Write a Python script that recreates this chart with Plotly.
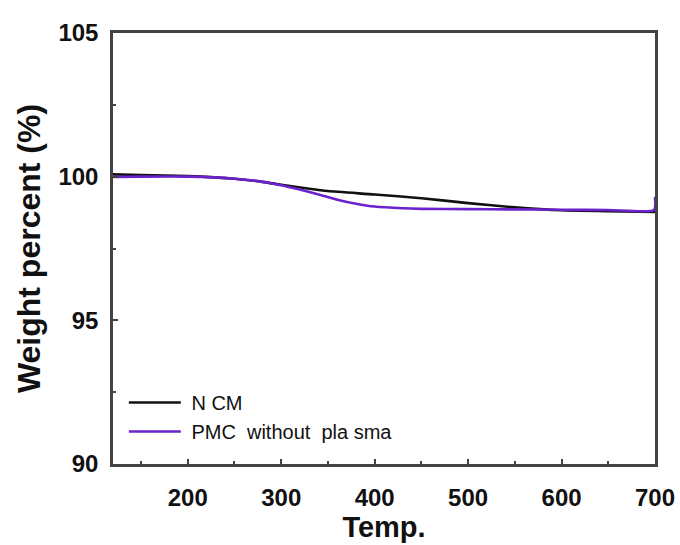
import plotly.graph_objects as go

# Thermogravimetric curves: temperature vs remaining weight
temp_ncm = [120, 150, 200, 250, 280, 300, 330, 350, 400, 450, 500, 550, 600, 650, 700]
weight_ncm = [100.08, 100.06, 100.02, 99.93, 99.82, 99.72, 99.58, 99.5, 99.38, 99.25, 99.08, 98.93, 98.83, 98.8, 98.77]

temp_pmc = [120, 150, 200, 250, 280, 300, 320, 340, 360, 380, 400, 430, 450, 500, 550, 600, 650, 699, 700]
weight_pmc = [99.99, 100.0, 100.0, 99.93, 99.82, 99.7, 99.55, 99.38, 99.2, 99.06, 98.96, 98.9, 98.88, 98.87, 98.86, 98.85, 98.84, 98.84, 99.3]

y_ticks = [90, 95, 100, 105]
x_ticks = [200, 300, 400, 500, 600, 700]

fig = go.Figure()
fig.add_trace(go.Scatter(x=temp_ncm, y=weight_ncm, mode="lines", name=" N CM",
                         line=dict(color="#111111", width=2.6, shape="spline", smoothing=0.6)))
fig.add_trace(go.Scatter(x=temp_pmc, y=weight_pmc, mode="lines", name=" PMC  without  pla sma",
                         line=dict(color="#6a22cc", width=2.6, shape="spline", smoothing=0.6)))

axis_common = dict(
    showline=True, linecolor="#444444", linewidth=2.5, mirror=True,
    showgrid=False, zeroline=False, ticks="inside", ticklen=5, tickwidth=1.5,
    tickcolor="#444444", automargin=False,
    tickfont=dict(family="Liberation Sans, Arial", size=24, color="#111111", weight="bold"),
    minor=dict(ticks="inside", ticklen=3, tickwidth=1.5, tickcolor="#444444"),
)

fig.update_layout(
    width=680, height=545,
    margin=dict(l=113, r=25, t=33, b=81),
    paper_bgcolor="white", plot_bgcolor="white",
    showlegend=True,
    legend=dict(x=0.02, y=0.03, xanchor="left", yanchor="bottom",
                bgcolor="rgba(0,0,0,0)", borderwidth=0,
                font=dict(family="Liberation Sans, Arial", size=20, color="#111111"),
                itemwidth=52, tracegroupgap=0),
    xaxis=dict(range=[120, 700], tickvals=x_ticks,
               ticklabelstandoff=10,
               title=dict(text="<b>Temp.</b>", standoff=4,
                          font=dict(family="Liberation Sans, Arial", size=29, color="#111111")),
               **axis_common),
    yaxis=dict(range=[90, 105], tickvals=y_ticks,
               ticklabelstandoff=7,
               title=dict(text="<b>Weight percent (%)</b>", standoff=9,
                          font=dict(family="Liberation Sans, Arial", size=32, color="#111111")),
               **axis_common),
)
fig.update_xaxes(minor=dict(tickvals=[150, 250, 350, 450, 550, 650]))
fig.update_yaxes(minor=dict(tickvals=[92.5, 97.5, 102.5]))

fig.write_html("out.html")
